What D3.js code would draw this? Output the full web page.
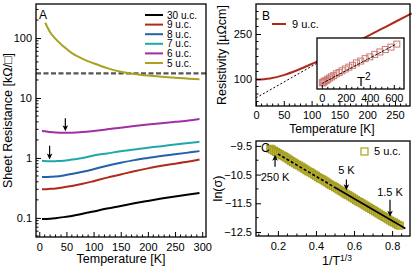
<!DOCTYPE html>
<html>
<head>
<meta charset="utf-8">
<script src="https://cdn.jsdelivr.net/npm/d3@7"></script>
<style>
  body { margin: 0; background: #fff; }
  svg { display: block; font-family: "Liberation Sans", Arial, sans-serif; }
  .domain { stroke: #000; stroke-width: 1.3; }
  .tick line { stroke: #000; }
  .tick text { font-size: 11px; fill: #000; }
</style>
</head>
<body>
<div id="chart"></div>
<script>
// ---------------- data ----------------
// panel A: sheet resistance (kOhm/sq) vs temperature
const tempA = [5, 10, 20, 30, 45, 60, 80, 100, 125, 150, 175, 200, 225, 250, 275, 295];
const r30 = [0.096, 0.096, 0.097, 0.099, 0.103, 0.108, 0.117, 0.128, 0.143, 0.158, 0.175, 0.192, 0.21, 0.228, 0.246, 0.26];
const r9 = [0.30, 0.30, 0.305, 0.31, 0.325, 0.34, 0.37, 0.41, 0.47, 0.53, 0.6, 0.67, 0.74, 0.8, 0.87, 0.94];
const r8 = [0.48, 0.48, 0.485, 0.49, 0.51, 0.54, 0.59, 0.65, 0.74, 0.83, 0.92, 1.0, 1.08, 1.15, 1.23, 1.3];
const r7 = [0.9, 0.89, 0.88, 0.885, 0.9, 0.94, 1.0, 1.1, 1.19, 1.29, 1.38, 1.48, 1.57, 1.67, 1.77, 1.86];
const r6 = [2.85, 2.78, 2.7, 2.65, 2.62, 2.63, 2.7, 2.82, 3.0, 3.2, 3.4, 3.6, 3.8, 4.0, 4.2, 4.45];
const temp5 = [11, 20, 30, 45, 60, 80, 100, 125, 150, 175, 200, 225, 250, 275, 295];
const r5 = [180, 125, 97, 72, 56, 45, 38, 31.5, 27.5, 25.2, 23.7, 22.6, 21.7, 21, 20.5];
const quantumR = 25.8; // h/e^2 dashed line
const seriesA = [
  { name: "30 u.c.", color: "#000000", t: tempA, r: r30 },
  { name: "9 u.c.", color: "#b02a1c", t: tempA, r: r9 },
  { name: "8 u.c.", color: "#2461a8", t: tempA, r: r8 },
  { name: "7 u.c.", color: "#22a7a7", t: tempA, r: r7 },
  { name: "6 u.c.", color: "#a22ea2", t: tempA, r: r6 },
  { name: "5 u.c.", color: "#a9a21f", t: temp5, r: r5 }
];
const arrowsA = [ { t: 48, from: 4.6, to: 2.8 }, { t: 19, from: 1.6, to: 0.94 } ];

// panel B: resistivity of 9 u.c.
const tempB = [0, 25, 50, 75, 100, 125, 150, 175, 200, 225, 250, 280];
const rhoB = [98, 102, 113, 130, 150, 172, 195, 218, 242, 266, 290, 319];
const fitB = [ { t: 0, rho: 37 }, { t: 112, rho: 155 } ];
// inset: rho vs T^2
const tSq = [4, 9, 16, 25, 36, 49, 64, 81, 100, 121, 144, 169, 196, 225, 256, 289, 324, 361, 400, 441, 484, 529, 576, 625];
const rhoSq = [98.0, 98.1, 98.15, 98.3, 98.4, 98.6, 98.8, 99.0, 99.2, 99.5, 99.7, 100.0, 100.3, 100.6, 100.9, 101.3, 101.6, 102.0, 102.3, 102.7, 103.1, 103.5, 103.9, 104.4];
const fitSq = [ { x: 0, y: 97.9 }, { x: 620, y: 104.4 } ];

// panel C: ln(sigma) vs 1/T^(1/3)
const xC = [0.16, 0.17, 0.18, 0.19, 0.20, 0.21, 0.22, 0.23, 0.24, 0.25, 0.26, 0.27, 0.28, 0.29, 0.30, 0.31, 0.32, 0.33,
  0.34, 0.35, 0.36, 0.37, 0.38, 0.39, 0.40, 0.41, 0.42, 0.43, 0.44, 0.45, 0.46, 0.47, 0.48, 0.49, 0.50, 0.51,
  0.52, 0.53, 0.54, 0.55, 0.56, 0.57, 0.58, 0.59, 0.60, 0.61, 0.62, 0.63, 0.64, 0.65, 0.66, 0.67, 0.68, 0.69,
  0.70, 0.71, 0.72, 0.73, 0.74, 0.75, 0.76, 0.77, 0.78, 0.79, 0.80, 0.81, 0.82, 0.83, 0.84];
const lnC = [-9.60, -9.63, -9.67, -9.71, -9.75, -9.79, -9.83, -9.86, -9.90, -9.94, -9.98, -10.03, -10.07, -10.11, -10.15, -10.18, -10.22, -10.26,
  -10.30, -10.35, -10.39, -10.42, -10.46, -10.50, -10.54, -10.59, -10.63, -10.66, -10.70, -10.74, -10.78, -10.83, -10.87, -10.90, -10.94, -10.98,
  -11.02, -11.06, -11.10, -11.15, -11.19, -11.22, -11.26, -11.30, -11.34, -11.39, -11.43, -11.46, -11.50, -11.54, -11.58, -11.62, -11.66, -11.70,
  -11.74, -11.78, -11.82, -11.86, -11.90, -11.94, -11.98, -12.02, -12.06, -12.10, -12.14, -12.17, -12.21, -12.25, -12.28];
const fitCdash = [ { x: 0.2, y: -9.78 }, { x: 0.5, y: -10.95 } ];
const fitCsolid = [ { x: 0.5, y: -10.95 }, { x: 0.87, y: -12.38 } ];
const arrowsC = [
  { x: 0.185, from: -10.23, to: -9.81, label: "250 K", ly: -10.6 },
  { x: 0.56, from: -10.67, to: -11.05, label: "5 K", ly: -10.34 },
  { x: 0.789, from: -11.38, to: -11.97, label: "1.5 K", ly: -11.1 }
];

// ---------------- helpers ----------------
const svg = d3.select("#chart").append("svg").attr("width", 415).attr("height", 270);

function frame(g, x0, y0, x1, y1) {
  g.append("rect").attr("x", x0).attr("y", y0).attr("width", x1 - x0).attr("height", y1 - y0)
    .attr("fill", "none").attr("stroke", "#000").attr("stroke-width", 1.3);
}
function minorTicks(g, scale, vals, orient, pos, len) {
  vals.forEach(v => {
    const p = scale(v);
    if (orient === "bottom") g.append("line").attr("x1", p).attr("x2", p).attr("y1", pos).attr("y2", pos - len).attr("stroke", "#000");
    else g.append("line").attr("y1", p).attr("y2", p).attr("x1", pos).attr("x2", pos + len).attr("stroke", "#000");
  });
}
function arrow(g, x, y1, y2) {
  const dir = y2 > y1 ? 1 : -1;
  g.append("line").attr("x1", x).attr("x2", x).attr("y1", y1).attr("y2", y2 - dir * 3).attr("stroke", "#000").attr("stroke-width", 1.2);
  g.append("path").attr("d", `M${x - 2.8},${y2 - dir * 6} L${x},${y2} L${x + 2.8},${y2 - dir * 6} L${x},${y2 - dir * 4.5} Z`).attr("fill", "#000");
}

// ---------------- panel A ----------------
const A = { l: 36, t: 4, r: 206, b: 237 };
const xA = d3.scaleLinear().domain([-6, 307]).range([A.l, A.r]);
const yA = d3.scaleLog().domain([0.048, 370]).range([A.b, A.t]);
const gA = svg.append("g");

gA.append("line").attr("x1", A.l).attr("x2", A.r).attr("y1", yA(quantumR)).attr("y2", yA(quantumR))
  .attr("stroke", "#555").attr("stroke-width", 2.2).attr("stroke-dasharray", "5,2.5");

const lineA = d3.line().x(d => xA(d[0])).y(d => yA(d[1])).curve(d3.curveMonotoneX);
seriesA.forEach(s => {
  gA.append("path").datum(s.t.map((t, i) => [t, s.r[i]]))
    .attr("d", lineA).attr("fill", "none").attr("stroke", s.color).attr("stroke-width", 2);
});
arrowsA.forEach(a => arrow(gA, xA(a.t), yA(a.from), yA(a.to)));

frame(gA, A.l, A.t, A.r, A.b);
gA.append("g").attr("transform", `translate(0,${A.b})`)
  .call(d3.axisBottom(xA).tickValues([0, 50, 100, 150, 200, 250, 300]).tickFormat(d3.format("d")).tickSize(-5).tickPadding(6))
  .call(g => g.select(".domain").remove());
minorTicks(gA, xA, d3.range(10, 300, 10).filter(v => v % 50), "bottom", A.b, 2.5);
gA.append("g").attr("transform", `translate(${A.l},0)`)
  .call(d3.axisLeft(yA).tickValues([0.1, 1, 10, 100]).tickFormat(d => d < 1 ? "0.1" : d3.format("d")(d)).tickSize(-5).tickPadding(4))
  .call(g => g.select(".domain").remove());
const minorLog = [];
[0.01, 0.1, 1, 10, 100].forEach(dec => { for (let k = 2; k <= 9; k++) { const v = dec * k; if (v > 0.048 && v < 370) minorLog.push(v); } });
minorTicks(gA, yA, minorLog, "left", A.l, 2.5);

gA.append("text").attr("x", 121).attr("y", 263).attr("text-anchor", "middle").attr("font-size", 12.5).text("Temperature [K]");
gA.append("text").attr("transform", `translate(12,${(A.t + A.b) / 2}) rotate(-90)`).attr("text-anchor", "middle")
  .attr("font-size", 12.5).text("Sheet Resistance [kΩ/□]");
gA.append("text").attr("x", 39).attr("y", 19).attr("font-size", 12).text("A");

const legA = gA.append("g");
seriesA.forEach((s, i) => {
  const y = 15 + i * 9.6;
  legA.append("line").attr("x1", 145).attr("x2", 163).attr("y1", y).attr("y2", y).attr("stroke", s.color).attr("stroke-width", 2);
  legA.append("text").attr("x", 167).attr("y", y + 3.6).attr("font-size", 10).text(s.name);
});

// ---------------- panel B ----------------
const B = { l: 256, t: 4, r: 410, b: 106 };
const xB = d3.scaleLinear().domain([0, 277]).range([B.l, B.r]);
const yB = d3.scaleLinear().domain([10, 350]).range([B.b, B.t]);
const gB = svg.append("g");
gB.append("path").datum(tempB.map((t, i) => [t, rhoB[i]]))
  .attr("d", d3.line().x(d => xB(d[0])).y(d => yB(d[1])).curve(d3.curveMonotoneX))
  .attr("fill", "none").attr("stroke", "#b02a1c").attr("stroke-width", 2);
gB.append("path").datum(fitB).attr("d", d3.line().x(d => xB(d.t)).y(d => yB(d.rho)))
  .attr("stroke", "#000").attr("stroke-width", 1).attr("stroke-dasharray", "2,2");
frame(gB, B.l, B.t, B.r, B.b);
gB.append("g").attr("transform", `translate(0,${B.b})`)
  .call(d3.axisBottom(xB).tickValues([0, 50, 100, 150, 200, 250]).tickSize(-5).tickPadding(5))
  .call(g => g.select(".domain").remove());
minorTicks(gB, xB, d3.range(10, 277, 10).filter(v => v % 50), "bottom", B.b, 2.5);
gB.append("g").attr("transform", `translate(${B.l},0)`)
  .call(d3.axisLeft(yB).tickValues([100, 250]).tickSize(-5).tickPadding(4))
  .call(g => g.select(".domain").remove());
minorTicks(gB, yB, d3.range(25, 350, 25).filter(v => v !== 100 && v !== 250), "left", B.l, 2.5);
gB.append("text").attr("x", 332).attr("y", 133).attr("text-anchor", "middle").attr("font-size", 12).text("Temperature [K]");
gB.append("text").attr("transform", `translate(226,${(B.t + B.b) / 2}) rotate(-90)`).attr("text-anchor", "middle")
  .attr("font-size", 12.5).text("Resistivity [µΩcm]");
gB.append("text").attr("x", 262).attr("y", 20).attr("font-size", 12).text("B");
gB.append("line").attr("x1", 272).attr("x2", 286).attr("y1", 24).attr("y2", 24).attr("stroke", "#b02a1c").attr("stroke-width", 2);
gB.append("text").attr("x", 292).attr("y", 28).attr("font-size", 11).text("9 u.c.");

// inset
const I = { l: 317, t: 38, r: 404, b: 89 };
const xI = d3.scaleLinear().domain([-40, 685]).range([I.l, I.r]);
const yI = d3.scaleLinear().domain([97, 105.4]).range([I.b, I.t]);
const gI = svg.append("g");
gI.append("rect").attr("x", I.l).attr("y", I.t).attr("width", I.r - I.l).attr("height", I.b - I.t).attr("fill", "#fff");
gI.selectAll("rect.pt").data(tSq.map((x, i) => [x, rhoSq[i]])).enter().append("rect").attr("class", "pt")
  .attr("x", d => xI(d[0]) - 3).attr("y", d => yI(d[1]) - 3).attr("width", 6).attr("height", 6)
  .attr("fill", "none").attr("stroke", "#cf7a74").attr("stroke-width", 1);
gI.append("path").datum(fitSq).attr("d", d3.line().x(d => xI(d.x)).y(d => yI(d.y)))
  .attr("stroke", "#000").attr("stroke-width", 0.9).attr("stroke-dasharray", "3,1");
frame(gI, I.l, I.t, I.r, I.b);
gI.append("g").attr("transform", `translate(0,${I.b})`)
  .call(d3.axisBottom(xI).tickValues([0, 200, 400, 600]).tickSize(-4).tickPadding(5))
  .call(g => g.select(".domain").remove());
minorTicks(gI, xI, d3.range(50, 680, 50).filter(v => v % 200), "bottom", I.b, 2.2);
const tsq = gI.append("text").attr("x", 357).attr("y", 86).attr("font-size", 13);
tsq.append("tspan").text("T");
tsq.append("tspan").attr("dy", -6).attr("font-size", 10).text("2");

// ---------------- panel C ----------------
const C = { l: 256, t: 141, r: 410, b: 236 };
const xCs = d3.scaleLinear().domain([0.085, 0.894]).range([C.l, C.r]);
const yCs = d3.scaleLinear().domain([-12.64, -9.33]).range([C.b, C.t]);
const gC = svg.append("g");
gC.selectAll("rect.pt").data(xC.map((x, i) => [x, lnC[i]])).enter().append("rect").attr("class", "pt")
  .attr("x", d => xCs(d[0]) - 3.5).attr("y", d => yCs(d[1]) - 3.5).attr("width", 7).attr("height", 7)
  .attr("fill", "#bab441").attr("stroke", "#a39c1f").attr("stroke-width", 1);
gC.append("path").datum(fitCdash).attr("d", d3.line().x(d => xCs(d.x)).y(d => yCs(d.y)))
  .attr("stroke", "#000").attr("stroke-width", 1.6).attr("stroke-dasharray", "3,2");
gC.append("path").datum(fitCsolid).attr("d", d3.line().x(d => xCs(d.x)).y(d => yCs(d.y)))
  .attr("stroke", "#000").attr("stroke-width", 1.6);
arrowsC.forEach(a => {
  arrow(gC, xCs(a.x), yCs(a.from), yCs(a.to));
  gC.append("text").attr("x", xCs(a.x)).attr("y", yCs(a.ly) + 4).attr("text-anchor", "middle").attr("font-size", 11).text(a.label);
});
frame(gC, C.l, C.t, C.r, C.b);
gC.append("g").attr("transform", `translate(0,${C.b})`)
  .call(d3.axisBottom(xCs).tickValues([0.2, 0.4, 0.6, 0.8]).tickSize(-5).tickPadding(6))
  .call(g => g.select(".domain").remove());
minorTicks(gC, xCs, [0.1, 0.15, 0.25, 0.3, 0.35, 0.45, 0.5, 0.55, 0.65, 0.7, 0.75, 0.85], "bottom", C.b, 2.5);
gC.append("g").attr("transform", `translate(${C.l},0)`)
  .call(d3.axisLeft(yCs).tickValues([-9.5, -10.5, -11.5, -12.5]).tickSize(-5).tickPadding(4))
  .call(g => g.select(".domain").remove());
minorTicks(gC, yCs, [-10, -11, -12], "left", C.l, 2.5);
const xl = gC.append("text").attr("x", 337).attr("y", 265).attr("text-anchor", "middle").attr("font-size", 12.5);
xl.append("tspan").text("1/T");
xl.append("tspan").attr("dy", -4).attr("font-size", 8.5).text("1/3");
gC.append("text").attr("transform", `translate(222,${(C.t + C.b) / 2}) rotate(-90)`).attr("text-anchor", "middle")
  .attr("font-size", 12.5).text("ln(σ)");
gC.append("text").attr("x", 261).attr("y", 152).attr("font-size", 12).text("C");
gC.append("rect").attr("x", 361).attr("y", 148).attr("width", 7).attr("height", 7)
  .attr("fill", "none").attr("stroke", "#a9a21f").attr("stroke-width", 1.2);
gC.append("text").attr("x", 374).attr("y", 155).attr("font-size", 11).text("5 u.c.");
</script>
</body>
</html>
